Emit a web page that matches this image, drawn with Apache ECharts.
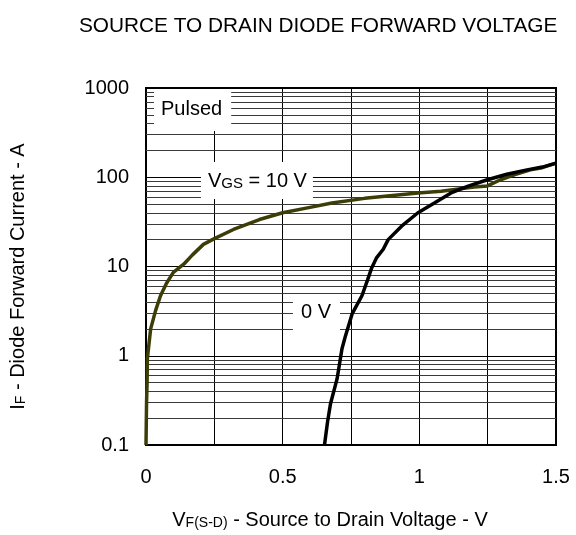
<!DOCTYPE html>
<html>
<head>
<meta charset="utf-8">
<script src="https://cdn.jsdelivr.net/npm/echarts@6/dist/echarts.min.js"></script>
<style>
  html, body { margin: 0; padding: 0; background: #fff; }
  #main { width: 576px; height: 535px; }
</style>
</head>
<body>
<div id="main"></div>
<script>
// V_GS = 10 V curve
const vgs10X = [0, 0.002, 0.004, 0.005, 0.017, 0.035, 0.053, 0.075, 0.10, 0.138, 0.17, 0.21, 0.25, 0.32, 0.415, 0.5, 0.6, 0.68, 0.8, 0.995, 1.08, 1.2, 1.249, 1.297, 1.35, 1.406, 1.45, 1.5];
const vgs10Y = [0.1, 0.3, 0.5, 0.93, 2.0, 3.2, 4.7, 6.5, 8.6, 10.6, 13.5, 17.7, 20.5, 26, 33.6, 40, 46, 51.5, 58, 66.7, 69.5, 77.8, 80, 93.8, 107, 121, 128, 144];
// V_GS = 0 V curve
const vgs0X = [0.653, 0.664, 0.675, 0.699, 0.717, 0.73, 0.754, 0.79, 0.81, 0.826, 0.844, 0.868, 0.886, 0.935, 0.995, 1.055, 1.116, 1.176, 1.249, 1.32, 1.394, 1.45, 1.5];
const vgs0Y = [0.1, 0.18, 0.29, 0.55, 1.2, 1.68, 2.94, 4.7, 7, 9.7, 12.6, 15.6, 20, 28.3, 40, 51.5, 66.7, 79, 93.8, 108, 121, 130, 144];

const xTickLabels = ['0', '0.5', '1', '1.5'];
const decades = [0.1, 1, 10, 100];
const minorSteps = [2, 3, 4, 5, 6, 7, 8, 9];

const font = "'Liberation Sans', Arial, sans-serif";

const zip = (xs, ys) => xs.map((x, i) => [x, ys[i]]);

// minor log gridlines (2..9 per decade)
const minorLines = [];
decades.forEach(d => minorSteps.forEach(m => minorLines.push({ yAxis: +(d * m).toPrecision(3) })));

const chart = echarts.init(document.getElementById('main'));

chart.setOption({
  animation: false,
  backgroundColor: '#fff',
  textStyle: { fontFamily: font },
  title: {
    text: 'SOURCE TO DRAIN DIODE FORWARD VOLTAGE',
    left: 74,
    top: 11,
    textStyle: { fontFamily: font, fontSize: 20.8, fontWeight: 'normal', color: '#000' }
  },
  grid: {
    left: 142, top: 88, width: 414, height: 359,
    show: true, borderColor: '#000', borderWidth: 2, backgroundColor: 'transparent'
  },
  xAxis: {
    type: 'value',
    min: 0, max: 1.5, interval: 0.25,
    axisLine: { show: false },
    axisTick: { show: false },
    splitLine: { show: true, lineStyle: { color: '#000', width: 1 } },
    axisLabel: {
      margin: 22, fontSize: 20, color: '#000', fontFamily: font,
      formatter: v => {
        const s = String(+v.toFixed(2));
        return xTickLabels.indexOf(s) >= 0 ? s : '';
      }
    },
    name: '{n|V}{s|F(S-D)}{n| - Source to Drain Voltage - V}',
    nameLocation: 'middle',
    nameGap: 65,
    nameTextStyle: {
      padding: [0, 42, 0, 0],
      rich: {
        n: { fontSize: 20, color: '#000', fontFamily: font },
        s: { fontSize: 14, color: '#000', fontFamily: font, padding: [6, 0, 0, 0] }
      }
    }
  },
  yAxis: {
    type: 'log',
    logBase: 10,
    min: 0.1, max: 1000,
    axisLine: { show: false },
    axisTick: { show: false },
    splitLine: { show: true, lineStyle: { color: '#000', width: 1 } },
    axisLabel: {
      margin: 17, fontSize: 20, color: '#000', fontFamily: font,
      formatter: v => (v < 0.5 ? '0.1' : String(Math.round(v)))
    },
    name: '{n|I}{s|F}{n| - Diode Forward Current - A}',
    nameLocation: 'middle',
    nameGap: 118,
    nameRotate: 90,
    nameTextStyle: {
      padding: [0, 20, 0, 0],
      rich: {
        n: { fontSize: 20, color: '#000', fontFamily: font },
        s: { fontSize: 14, color: '#000', fontFamily: font, padding: [6, 0, 0, 0] }
      }
    }
  },
  graphic: [
    {
      type: 'text', z: 1, left: 154, top: 89,
      style: {
        text: 'Pulsed', font: '20px ' + font, fill: '#000',
        backgroundColor: '#fff', padding: [10, 9, 12, 7]
      }
    },
    {
      type: 'text', z: 1, left: 201, top: 162,
      style: {
        rich: {
          n: { fontSize: 20, fontFamily: font, fill: '#000' },
          s: { fontSize: 15, fontFamily: font, fill: '#000', padding: [5, 0, 0, 0] }
        },
        text: '{n|V}{s|GS}{n| = 10 V}',
        backgroundColor: '#fff', padding: [9, 6, 8, 7]
      }
    },
    {
      type: 'text', z: 1, left: 293, top: 295,
      style: {
        text: '0 V', font: '20px ' + font, fill: '#000',
        backgroundColor: '#fff', padding: [7, 9, 8, 8]
      }
    }
  ],
  series: [
    {
      type: 'line',
      data: [],
      silent: true,
      markLine: {
        z: 0,
        silent: true,
        symbol: 'none',
        label: { show: false },
        lineStyle: { color: '#3a3a3a', width: 1, type: 'solid' },
        data: minorLines
      }
    },
    {
      name: 'VGS = 10 V',
      type: 'line',
      z: 3,
      data: zip(vgs10X, vgs10Y),
      showSymbol: false,
      smooth: false,
      lineStyle: { color: '#3d3d08', width: 3.5 }
    },
    {
      name: '0 V',
      type: 'line',
      z: 4,
      data: zip(vgs0X, vgs0Y),
      showSymbol: false,
      smooth: false,
      lineStyle: { color: '#000', width: 3.5 }
    }
  ]
});
</script>
</body>
</html>
